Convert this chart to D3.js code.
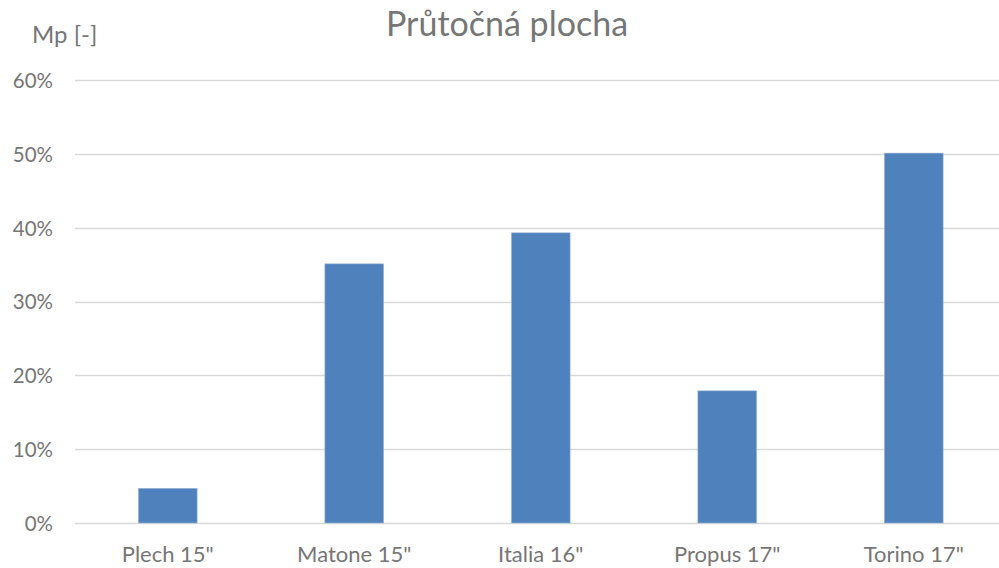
<!DOCTYPE html>
<html>
<head>
<meta charset="utf-8">
<script src="https://cdn.jsdelivr.net/npm/d3@7"></script>
<style>
  body { margin: 0; background: #fff; }
  svg text { font-family: Lato, 'Open Sans', sans-serif; fill: #767676; }
</style>
</head>
<body>
<svg id="chart"></svg>
<script>
let categories = ['Plech 15"', 'Matone 15"', 'Italia 16"', 'Propus 17"', 'Torino 17"']
let values = [0.047, 0.351, 0.393, 0.179, 0.501]
let yTicks = [0, 0.1, 0.2, 0.3, 0.4, 0.5, 0.6]

let width = 999
let height = 568

let svg = d3.select('#chart')
    .attr('width', width)
    .attr('height', height)

let xScale = d3.scaleBand()
    .domain(categories)
    .range([74.5, 1007])
    .paddingInner(0.685)
    .paddingOuter(0.3425)

let yScale = d3.scaleLinear()
    .domain([0, 0.6])
    .range([523, 80])

// gridlines
svg.append('g')
    .selectAll('line')
    .data(yTicks)
    .enter()
    .append('line')
    .attr('x1', 75)
    .attr('x2', 1007)
    .attr('y1', (d) => Math.round(yScale(d)) + 0.5)
    .attr('y2', (d) => Math.round(yScale(d)) + 0.5)
    .attr('stroke', '#d9d9d9')
    .attr('stroke-width', 1.5)

// bars
svg.append('g')
    .selectAll('rect')
    .data(values)
    .enter()
    .append('rect')
    .attr('x', (d, i) => xScale(categories[i]))
    .attr('width', xScale.bandwidth())
    .attr('y', (d) => yScale(d))
    .attr('height', (d) => yScale(0) - yScale(d))
    .attr('fill', '#4f81bd')
    .attr('stroke', '#9fb7d9')
    .attr('stroke-width', 0.6)

// y axis labels
let yAxis = d3.axisLeft(yScale)
    .tickValues(yTicks)
    .tickFormat(d3.format('.0%'))
    .tickSize(0)
    .tickPadding(0)

svg.append('g')
    .attr('transform', 'translate(53, 0)')
    .call(yAxis)
    .call(g => g.select('.domain').remove())
    .selectAll('text')
    .style('font-size', '20.5px')
    .attr('fill', '#767676')
    .attr('dy', '0.36em')

// x axis labels
let xAxis = d3.axisBottom(xScale)
    .tickSize(0)
    .tickPadding(0)

svg.append('g')
    .attr('transform', 'translate(0, 546)')
    .call(xAxis)
    .call(g => g.select('.domain').remove())
    .selectAll('text')
    .style('font-size', '22px')
    .attr('fill', '#767676')

svg.append('text')
    .attr('x', 507)
    .attr('y', 36)
    .attr('text-anchor', 'middle')
    .style('font-size', '34px')
    .text('Průtočná plocha')

svg.append('text')
    .attr('x', 32)
    .attr('y', 43)
    .style('font-size', '24px')
    .text('Mp [-]')
</script>
</body>
</html>
